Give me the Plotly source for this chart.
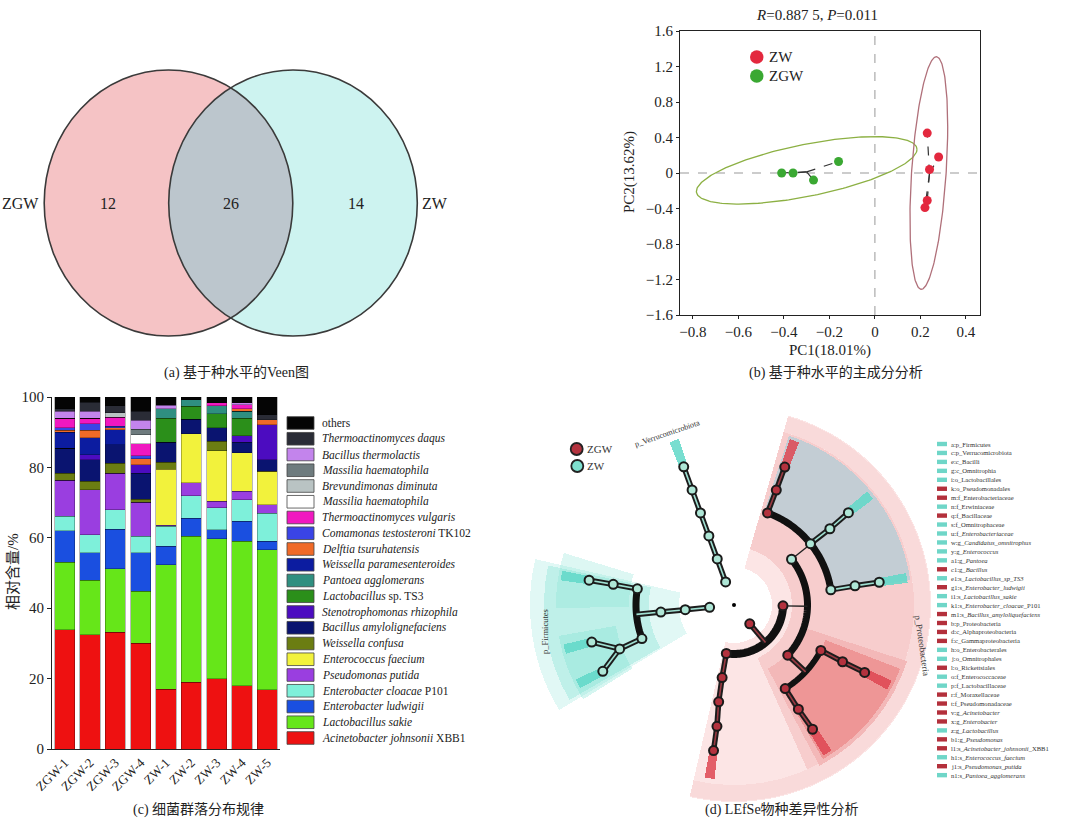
import numpy as np
import plotly.graph_objects as go

W, H = 1080, 822
SERIF = "Liberation Serif, Times New Roman, serif"
MIXED = "Liberation Serif, Noto Sans CJK SC, serif"


def px(x):
    return x / W


def py(y):
    return 1 - y / H


# ---------------- (a) Venn data ----------------
venn_labels = ["ZGW", "ZW"]
venn_counts = [12, 26, 14]          # only ZGW, shared, only ZW

# ---------------- (b) PCA data ----------------
zw_pc1 = [0.23, 0.28, 0.24, 0.23, 0.22]
zw_pc2 = [0.45, 0.18, 0.04, -0.31, -0.39]
zgw_pc1 = [-0.41, -0.36, -0.27, -0.16]
zgw_pc2 = [0.00, 0.00, -0.08, 0.13]
pca_xticks = [-0.8, -0.6, -0.4, -0.2, 0, 0.2, 0.4]
pca_yticks = [-1.6, -1.2, -0.8, -0.4, 0, 0.4, 0.8, 1.2, 1.6]
# ellipse: centre x, centre y, x amplitude, y amplitude, phase shift
zgw_ellipse = [-0.30, 0.03, 0.485, 0.38, 0.9]
zw_ellipse = [0.237, 0.0, 0.083, 1.31, 1.16]

# ---------------- (c) stacked bar data ----------------
samples = ["ZGW-1", "ZGW-2", "ZGW-3", "ZGW-4", "ZW-1", "ZW-2", "ZW-3", "ZW-4", "ZW-5"]
acinetobacter_johnsonii = [33.9, 32.5, 33.2, 30.1, 17.0, 18.9, 19.9, 18.0, 16.9]
lactobacillus_sakie = [19.1, 15.4, 18.0, 14.7, 35.4, 41.5, 39.9, 41.0, 39.7]
enterobacter_ludwigii = [9.0, 7.8, 11.3, 10.9, 5.2, 5.2, 2.5, 5.7, 2.4]
enterobacter_cloacae = [4.1, 5.2, 5.5, 4.7, 5.7, 6.4, 6.2, 6.1, 8.0]
pseudomonas_putida = [10.2, 12.8, 10.4, 9.7, 0.3, 3.6, 1.9, 2.4, 2.4]
enterococcus_faecium = [0, 0, 0, 0, 15.9, 14.0, 14.4, 10.9, 9.5]
weissella_confusa = [2.1, 2.3, 2.8, 0.9, 1.9, 0, 2.6, 0, 0]
bacillus_amylo = [7.1, 6.2, 5.3, 7.4, 5.7, 4.1, 3.8, 3.0, 3.3]
stenotrophomonas = [0, 1.4, 0, 2.4, 0, 0, 0, 1.9, 9.9]
lactobacillus_ts3 = [0, 0, 0, 0, 6.9, 3.7, 4.1, 5.0, 0]
pantoea = [0, 0, 0, 0, 2.6, 1.8, 2.2, 1.9, 0]
weissella_para = [4.5, 4.8, 4.2, 0, 0, 0, 0, 0, 0]
delftia = [0.5, 2.1, 0.5, 1.7, 0, 0, 0, 0.7, 1.5]
comamonas = [0.7, 1.9, 0.5, 0.8, 0, 0, 0, 0, 0]
thermo_vulgaris = [2.8, 1.6, 2.6, 3.4, 0, 0, 0.8, 1.2, 0]
massilia_a = [0, 0, 0, 2.6, 0, 0, 0, 0, 0]
brevundimonas = [0, 0, 1.2, 0, 0, 0, 0, 0, 0]
massilia_b = [0, 0, 0, 1.6, 0, 0, 0, 0, 0]
bacillus_thermolactis = [1.9, 1.9, 0, 2.5, 1.0, 0, 0, 0.5, 0]
thermo_daqus = [0.7, 2.6, 2.0, 2.5, 0.2, 0, 0, 0, 1.4]
others = [3.4, 1.5, 2.5, 4.1, 2.2, 0.8, 1.7, 1.7, 5.0]

species_series = [acinetobacter_johnsonii, lactobacillus_sakie, enterobacter_ludwigii,
                  enterobacter_cloacae, pseudomonas_putida, enterococcus_faecium,
                  weissella_confusa, bacillus_amylo, stenotrophomonas, lactobacillus_ts3,
                  pantoea, weissella_para, delftia, comamonas, thermo_vulgaris, massilia_a,
                  brevundimonas, massilia_b, bacillus_thermolactis, thermo_daqus, others]
species_names = ["<i>Acinetobacter johnsonii</i> XBB1", "<i>Lactobacillus sakie</i>",
                 "<i>Enterobacter ludwigii</i>", "<i>Enterobacter cloacae</i> P101",
                 "<i>Pseudomonas putida</i>", "<i>Enterococcus faecium</i>",
                 "<i>Weissella confusa</i>", "<i>Bacillus amylolignefaciens</i>",
                 "<i>Stenotrophomonas rhizophila</i>", "<i>Lactobacillus</i> sp. TS3",
                 "<i>Pantoea agglomerans</i>", "<i>Weissella paramesenteroides</i>",
                 "<i>Delftia tsuruhatensis</i>", "<i>Comamonas testosteroni</i> TK102",
                 "<i>Thermoactinomyces vulgaris</i>", "<i>Massilia haematophila</i>",
                 "<i>Brevundimonas diminuta</i>", "<i>Massilia haematophila</i>",
                 "<i>Bacillus thermolactis</i>", "<i>Thermoactinomyces daqus</i>", "others"]
species_colors = ["#ee1111", "#66e619", "#1a4fe0", "#7ef0da", "#9a3ee0", "#f2f23c",
                  "#6b7d12", "#0a1470", "#4c0cc0", "#2b8f1a", "#2f8f80", "#0c1ca0",
                  "#f06a28", "#3a44e6", "#f018c0", "#ffffff", "#b9c3c3", "#6e7b7e",
                  "#c384ec", "#2a2c36", "#050505"]
bar_yticks = [0, 20, 40, 60, 80, 100]

# ---------------- (d) LEfSe cladogram data ----------------
# nodes: angle (deg), taxonomic level (1 phylum .. 6 species), enriched group
node_theta = [110, 110, 110, 110, 110, 110,
              185.5, 185.5, 185.5, 170.5, 170.3, 170.3, 200, 201, 194.6, 206.8,
              -50, -99, -99.3, -99, -98, -98,
              -1, 38.5, 70, 69.8, 69.8, 38.7, 38.5, 38.9, 8.9, 9, 8.9,
              -43, -27.6, -27.6, -27.3, -58.5, -58.3, -57.7]
node_level = [1, 2, 3, 4, 5, 6,
              1, 2, 3, 4, 5, 6, 4, 5, 6, 6,
              1, 2, 3, 4, 5, 6,
              2, 3, 4, 5, 6, 4, 5, 6, 4, 5, 6,
              3, 4, 5, 6, 4, 5, 6]
node_group = ["ZW"] * 6 + ["ZW"] * 10 + ["ZGW"] * 6 + \
             ["ZGW", "ZW", "ZGW", "ZGW", "ZGW", "ZW", "ZW", "ZW", "ZW", "ZW", "ZW"] + \
             ["ZGW"] * 7
edges = [(0, 1), (1, 2), (2, 3), (3, 4), (4, 5),
         (6, 7), (7, 8), (9, 10), (10, 11), (12, 13), (13, 14), (13, 15),
         (17, 18), (18, 19), (19, 20), (20, 21),
         (24, 25), (25, 26), (27, 28), (28, 29), (30, 31), (31, 32),
         (34, 35), (35, 36), (37, 38), (38, 39)]
# radial sticks from a parent node out to the arc of its children: node, double line?
sticks = [(8, True), (16, True), (22, False), (23, False), (33, True)]
# thick arcs: level, angle from, angle to, width
arcs = [(4, 170.5, 200, 7), (2, -99, -1, 8), (3, -43, 38.5, 7), (4, 8.9, 70, 7), (4, -58.5, -27.6, 6)]
leaf_nodes = [5, 11, 14, 15, 21, 26, 29, 32, 36, 39]
# highlighted clade sectors: angle from, angle to, inner radius, outer radius, colour
clade_sectors = [(-103, 74, 38, 197, "rgba(251,222,222,0.8)"),
                 (-66, 74, 58, 180, "#f7cdcd"),
                 (-103, 74, 180, 196, "#f9dada"),
                 (8, 72, 98, 178, "#c3cdd4"),
                 (-62, -18, 72, 182, "#f3b8b8"),
                 (-60, -21, 98, 178, "#ee9696"),
                 (167, 211, 55, 204, "rgba(120,224,208,0.22)"),
                 (168, 210, 85, 190, "rgba(120,224,208,0.32)"),
                 (163, 181, 105, 178, "rgba(120,224,208,0.25)"),
                 (190, 212, 120, 178, "rgba(120,224,208,0.30)")]
LEVEL_R = 24.5

lefse_names = ["a:p_Firmicutes", "c:p_Verrucomicrobiota", "e:c_Bacilli", "g:c_Omnitrophia",
               "i:o_Lactobacillales", "k:o_Pseudomonadales", "m:f_Enterobacteriaceae",
               "n:f_Erwiniaceae", "q:f_Bacillaceae", "s:f_Omnitrophaceae",
               "u:f_<i>Enterobacteriaceae</i>", "w:g_<i>Candidatus_omnitrophus</i>",
               "y:g_<i>Enterococcus</i>", "a1:g_<i>Pantoea</i>", "c1:g_<i>Bacillus</i>",
               "e1:s_<i>Lactobacillus_sp_TS3</i>", "g1:s_<i>Enterobacter_ludwigii</i>",
               "i1:s_<i>Lactobacillus_sakie</i>", "k1:s_<i>Enterobacter_cloacae</i>_P101",
               "m1:s_<i>Bacillus_amyloliquefaciens</i>", "b:p_Proteobacteria",
               "d:c_Alphaproteobacteria", "f:c_Gammaproteobacteria", "h:o_Enterobacterales",
               "j:o_Omnitrophales", "l:o_Rickettsiales", "o:f_Enterococcaceae",
               "p:f_Lactobacillaceae", "r:f_Moraxellaceae", "t:f_Pseudomonadaceae",
               "v:g_<i>Acinetobacter</i>", "x:g_<i>Enterobacter</i>", "z:g_<i>Lactobacillus</i>",
               "b1:g_<i>Pseudomonas</i>", "l1:s_<i>Acinetobacter_johnsonii</i>_XBB1",
               "h1:s_<i>Enterococcus_faecium</i>", "j1:s_<i>Pseudomonas_putida</i>",
               "n1:s_<i>Pantoea_agglomerans</i>"]
lefse_groups = ["ZW", "ZW", "ZW", "ZW", "ZW", "ZGW", "ZGW", "ZW", "ZGW", "ZW",
                "ZW", "ZW", "ZW", "ZW", "ZGW", "ZW", "ZGW", "ZW", "ZW", "ZGW",
                "ZGW", "ZGW", "ZGW", "ZW", "ZW", "ZGW", "ZW", "ZW", "ZGW", "ZGW",
                "ZGW", "ZGW", "ZW", "ZGW", "ZGW", "ZW", "ZGW", "ZW"]

GROUP_NODE = {"ZW": "#aee6d6", "ZGW": "#b3323e"}
GROUP_LINE = {"ZW": "#9fe0d2", "ZGW": "#9a3a42"}
GROUP_TIP = {"ZW": "rgba(96,216,200,0.85)", "ZGW": "rgba(222,70,82,0.85)"}
GROUP_SWATCH = {"ZW": "#6fd6c8", "ZGW": "#b3303c"}

fig = go.Figure()
shapes = []
annotations = []


def ann(x, y, text, size, family=SERIF, xanchor="center", yanchor="middle", angle=0,
        xref="paper", yref="paper", color="#222"):
    annotations.append(dict(x=x, y=y, xref=xref, yref=yref, text=text, showarrow=False,
                            xanchor=xanchor, yanchor=yanchor, textangle=angle,
                            font=dict(family=family, size=size, color=color)))


# ======================= (a) Venn =======================
cxL, cxR, cyV, aV, bV = 168.5, 293.0, 203.0, 124.3, 133.0
venn_fill = ["#f5c3c5", "#cdf3f0"]
for cx, col in zip([cxL, cxR], venn_fill):
    shapes.append(dict(type="circle", xref="x", yref="y", x0=cx - aV, x1=cx + aV,
                       y0=cyV - bV, y1=cyV + bV, fillcolor=col, line=dict(width=0),
                       layer="below"))
th0 = np.arccos((cxR - cxL) / 2 / aV)
t1 = np.linspace(-th0, th0, 80)
t2 = np.linspace(np.pi - th0, np.pi + th0, 80)
lens_x = np.concatenate([cxL + aV * np.cos(t1), cxR + aV * np.cos(t2)])
lens_y = np.concatenate([cyV - bV * np.sin(t1), cyV - bV * np.sin(t2)])
fig.add_trace(go.Scatter(x=lens_x, y=lens_y, fill="toself", fillcolor="#bcc6cd",
                         mode="lines", line=dict(width=0), xaxis="x", yaxis="y",
                         hoverinfo="skip", showlegend=False))
for cx in [cxL, cxR]:
    shapes.append(dict(type="circle", xref="x", yref="y", x0=cx - aV, x1=cx + aV,
                       y0=cyV - bV, y1=cyV + bV, fillcolor="rgba(0,0,0,0)",
                       line=dict(width=1.6, color="#3a3a3a"), layer="above"))
venn_text = [venn_labels[0], str(venn_counts[0]), str(venn_counts[1]), str(venn_counts[2]), venn_labels[1]]
venn_text_x = [20, 107.5, 231, 356, 435]
for tx, tt_ in zip(venn_text_x, venn_text):
    ann(tx, cyV, tt_, 16, xref="x", yref="y")

# ======================= (b) PCA =======================
tt = np.linspace(0, 2 * np.pi, 240)
for ell, col in [(zgw_ellipse, "#8cb043"), (zw_ellipse, "#b0707a")]:
    cx, cy, ax_, ay_, dl = ell
    fig.add_trace(go.Scatter(x=cx + ax_ * np.cos(tt), y=cy + ay_ * np.cos(tt - dl),
                             mode="lines", line=dict(color=col, width=1.3),
                             xaxis="x2", yaxis="y2", hoverinfo="skip", showlegend=False))
for xs, ys in [(zgw_pc1, zgw_pc2), (zw_pc1, zw_pc2)]:
    mx, my = float(np.mean(xs)), float(np.mean(ys))
    lx, ly = [], []
    for a, b in zip(xs, ys):
        lx += [mx, a, None]
        ly += [my, b, None]
    fig.add_trace(go.Scatter(x=lx, y=ly, mode="lines", line=dict(color="#333", width=1.2, dash="dash"),
                             xaxis="x2", yaxis="y2", hoverinfo="skip", showlegend=False))
fig.add_trace(go.Scatter(x=zgw_pc1, y=zgw_pc2, mode="markers", name="ZGW",
                         marker=dict(color="#3aa832", size=9), xaxis="x2", yaxis="y2",
                         showlegend=False))
fig.add_trace(go.Scatter(x=zw_pc1, y=zw_pc2, mode="markers", name="ZW",
                         marker=dict(color="#e3283e", size=9), xaxis="x2", yaxis="y2",
                         showlegend=False))
shapes.append(dict(type="line", xref="x2", yref="y2", x0=0, x1=0, y0=-1.6, y1=1.6,
                   line=dict(color="#999", width=1, dash="dash"), layer="below"))
shapes.append(dict(type="line", xref="x2", yref="y2", x0=-0.857, x1=0.462, y0=0, y1=0,
                   line=dict(color="#999", width=1, dash="dash"), layer="below"))
# PCA legend
for (cy_, col, lab) in [(57, "#e3283e", "ZW"), (76, "#3aa832", "ZGW")]:
    shapes.append(dict(type="circle", xref="paper", yref="paper", x0=px(750), x1=px(763.5),
                       y0=py(cy_ + 6.7), y1=py(cy_ - 6.7), fillcolor=col, line=dict(width=0)))
    ann(px(767), py(cy_), lab, 15, xanchor="left")
ann(px(817), py(15), "<i>R</i>=0.887 5, <i>P</i>=0.011", 15)
ann(px(830), py(350), "PC1(18.01%)", 15)
ann(px(630), py(172), "PC2(13.62%)", 15, angle=-90)

# ======================= (c) stacked bars =======================
for vals, nm, col in zip(species_series, species_names, species_colors):
    fig.add_trace(go.Bar(x=samples, y=vals, name=nm, marker=dict(color=col,
                         line=dict(width=0.5, color="rgba(0,0,0,0.55)")),
                         xaxis="x3", yaxis="y3", showlegend=False))
# manual legend (top entry = top of the stack)
leg_top, leg_step = 423, 15.75
for i, (nm, col) in enumerate(zip(species_names[::-1], species_colors[::-1])):
    yc = leg_top + i * leg_step
    shapes.append(dict(type="rect", xref="paper", yref="paper", x0=px(287), x1=px(314),
                       y0=py(yc + 6.3), y1=py(yc - 6.3), fillcolor=col,
                       line=dict(width=0.8, color="#444")))
    ann(px(320), py(yc), nm, 11.5, xanchor="left")
ann(px(13), py(572), "相对含量/%", 15, family=MIXED, angle=-90)

# ======================= (d) LEfSe cladogram =======================
for (a0, a1, r0, r1, col) in clade_sectors:
    fig.add_trace(go.Barpolar(theta=[(a0 + a1) / 2], width=[a1 - a0], base=[r0], r=[r1 - r0],
                              marker=dict(color=col, line=dict(width=0)), subplot="polar",
                              hoverinfo="skip", showlegend=False))
for grp in ["ZW", "ZGW"]:
    th = [node_theta[i] for i in leaf_nodes if node_group[i] == grp]
    fig.add_trace(go.Barpolar(theta=th, width=[3.2] * len(th), base=[151] * len(th),
                              r=[24] * len(th), marker=dict(color=GROUP_TIP[grp], line=dict(width=0)),
                              subplot="polar", hoverinfo="skip", showlegend=False))
for (lev, a0, a1, wd) in arcs:
    th = np.linspace(a0, a1, 60)
    fig.add_trace(go.Scatterpolar(theta=th, r=[lev * LEVEL_R] * len(th), mode="lines",
                                  line=dict(color="#111", width=wd), subplot="polar",
                                  hoverinfo="skip", showlegend=False))
for grp in ["ZW", "ZGW"]:
    rr, th = [], []
    for (i, j) in edges:
        if node_group[j] != grp:
            continue
        rr += [node_level[i] * LEVEL_R, node_level[j] * LEVEL_R, None]
        th += [node_theta[i], node_theta[j], None]
    for (i, dbl) in sticks:
        if dbl and node_group[i] == grp:
            rr += [node_level[i] * LEVEL_R, (node_level[i] + 1) * LEVEL_R, None]
            th += [node_theta[i], node_theta[i], None]
    fig.add_trace(go.Scatterpolar(theta=th, r=rr, mode="lines", line=dict(color="#1c1c1c", width=5.5),
                                  subplot="polar", hoverinfo="skip", showlegend=False))
    fig.add_trace(go.Scatterpolar(theta=th, r=rr, mode="lines", line=dict(color=GROUP_LINE[grp], width=1.6),
                                  subplot="polar", hoverinfo="skip", showlegend=False))
rr, th = [], []
for (i, dbl) in sticks:
    if not dbl:
        rr += [node_level[i] * LEVEL_R, (node_level[i] + 1) * LEVEL_R, None]
        th += [node_theta[i], node_theta[i], None]
fig.add_trace(go.Scatterpolar(theta=th, r=rr, mode="lines", line=dict(color="#222", width=1.4),
                              subplot="polar", hoverinfo="skip", showlegend=False))
for grp in ["ZW", "ZGW"]:
    idx = [i for i in range(len(node_theta)) if node_group[i] == grp]
    fig.add_trace(go.Scatterpolar(theta=[node_theta[i] for i in idx],
                                  r=[node_level[i] * LEVEL_R for i in idx], mode="markers",
                                  marker=dict(size=9, color=GROUP_NODE[grp],
                                              line=dict(width=2, color="#1a1a1a")),
                                  subplot="polar", hoverinfo="skip", showlegend=False))
fig.add_trace(go.Scatterpolar(theta=[0], r=[0], mode="markers", marker=dict(size=4, color="#000"),
                              subplot="polar", hoverinfo="skip", showlegend=False))
ann(px(667), py(433), "p_Verrucomicrobiota", 8, angle=-19, color="#333")
ann(px(545), py(632), "p_Firmicutes", 8.5, angle=-90, color="#333")
ann(px(922), py(645), "p_Proteobacteria", 9, angle=82, color="#333")
for (cy_, grp, cxp, fc) in [(449, "ZGW", 576.7, "#b3323e"), (466, "ZW", 577.3, "#7ee0cf")]:
    shapes.append(dict(type="circle", xref="paper", yref="paper", x0=px(cxp - 6), x1=px(cxp + 6),
                       y0=py(cy_ + 6), y1=py(cy_ - 6), fillcolor=fc,
                       line=dict(width=1.8, color="#222")))
    ann(px(585), py(cy_), grp, 11, xanchor="left", color="#333")
for k, (nm, grp) in enumerate(zip(lefse_names, lefse_groups)):
    yc = 444 + k * 8.95
    shapes.append(dict(type="rect", xref="paper", yref="paper", x0=px(937), x1=px(947),
                       y0=py(yc + 2.2), y1=py(yc - 2.2), fillcolor=GROUP_SWATCH[grp], line=dict(width=0)))
    ann(px(948.5), py(yc), nm, 6.6, xanchor="left", color="#333")

# ======================= captions =======================
for (cx_, cy_, txt) in [(236, 372, "(a) 基于种水平的Veen图"), (836, 372, "(b) 基于种水平的主成分分析"),
                        (198, 810, "(c) 细菌群落分布规律"), (782, 810, "(d) LEfSe物种差异性分析")]:
    ann(px(cx_), py(cy_), txt, 14, family=MIXED)

hidden = dict(visible=False, showgrid=False, zeroline=False, fixedrange=True)
fig.update_layout(
    width=W, height=H, margin=dict(l=0, r=0, t=0, b=0, pad=0, autoexpand=False),
    paper_bgcolor="white", plot_bgcolor="rgba(0,0,0,0)", showlegend=False,
    barmode="stack", bargap=0.21,
    xaxis=dict(domain=[0, px(540)], range=[0, 540], anchor="y", **hidden),
    yaxis=dict(domain=[py(380), 1], range=[380, 0], anchor="x", **hidden),
    xaxis2=dict(domain=[px(680), px(980)], range=[-0.857, 0.462], anchor="y2",
                tickvals=pca_xticks, showline=True, mirror=True, linecolor="#222", linewidth=1,
                ticks="outside", ticklen=3, tickcolor="#222", showgrid=False, zeroline=False,
                tickfont=dict(family=SERIF, size=15, color="#222")),
    yaxis2=dict(domain=[py(315), py(31)], range=[-1.6, 1.6], anchor="x2",
                tickvals=pca_yticks, showline=True, mirror=True, linecolor="#222", linewidth=1,
                ticks="outside", ticklen=3, tickcolor="#222", showgrid=False, zeroline=False,
                tickfont=dict(family=SERIF, size=15, color="#222")),
    xaxis3=dict(domain=[px(52), px(280)], anchor="y3", type="category", tickangle=-45,
                showline=True, linecolor="#222", ticks="", showgrid=False,
                tickfont=dict(family=SERIF, size=13, color="#222")),
    yaxis3=dict(domain=[py(749), py(397)], range=[0, 100], anchor="x3", tickvals=bar_yticks,
                showline=True, linecolor="#222", ticks="outside", ticklen=4, tickcolor="#222",
                showgrid=False, zeroline=False, tickfont=dict(family=SERIF, size=15, color="#222")),
    polar=dict(domain=dict(x=[px(734 - 205), px(734 + 205)], y=[py(605 + 205), py(605 - 205)]),
               bgcolor="rgba(0,0,0,0)",
               radialaxis=dict(range=[0, 205], visible=False),
               angularaxis=dict(visible=False, rotation=0, direction="counterclockwise")),
    shapes=shapes, annotations=annotations,
)

fig.write_html("out.html", config={"displayModeBar": False},
               post_script="document.body.style.margin='0';document.body.style.overflow='hidden';")
